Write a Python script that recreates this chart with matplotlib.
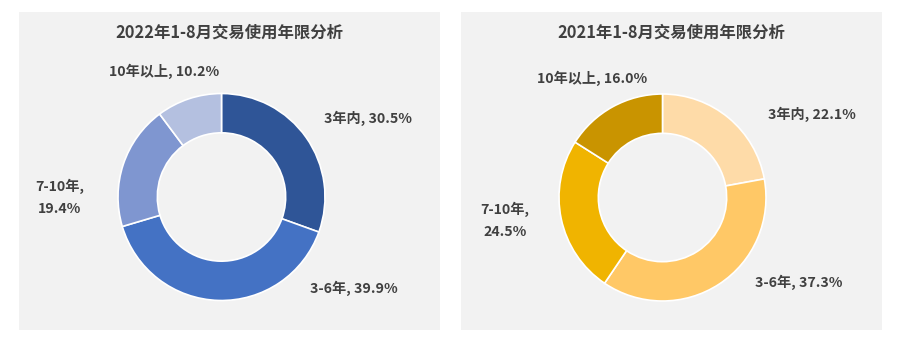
import matplotlib.pyplot as plt

plt.rcParams["font.family"] = ["Noto Sans CJK SC", "DejaVu Sans"]

categories = ["3年内", "3-6年", "7-10年", "10年以上"]
share_2022 = [30.5, 39.9, 19.4, 10.2]
share_2021 = [22.1, 37.3, 24.5, 16.0]
titles = ["2022年1-8月交易使用年限分析", "2021年1-8月交易使用年限分析"]

colors_2022 = ["#2f5597", "#4472c4", "#7f96d0", "#b4c0e0"]
colors_2021 = ["#fedba8", "#ffc866", "#f0b400", "#c99400"]

# label offsets from donut centre, in units of the outer radius
label_pos_2022 = [(1.415, 0.76), (1.28, -0.88), (-1.56, 0.0), (-0.55, 1.21)]
label_pos_2021 = [(1.445, 0.80), (1.32, -0.82), (-1.52, -0.22), (-0.68, 1.155)]

W, H = 901, 354
R = 103.5  # outer radius, px
text_color = "#404040"
panel_color = "#f2f2f2"

fig = plt.figure(figsize=(W / 100, H / 100), dpi=100)

# panel: (left, top, right, bottom) in px, donut centre in px
panels = [
    ((19, 12, 440, 330), (221.5, 197.0)),
    ((461, 12, 882, 330), (662.5, 197.5)),
]

for (box, centre), vals, cols, lpos, title in zip(
    panels,
    [share_2022, share_2021],
    [colors_2022, colors_2021],
    [label_pos_2022, label_pos_2021],
    titles,
):
    l, t, r, b = box
    ax = fig.add_axes([l / W, (H - b) / H, (r - l) / W, (b - t) / H])
    ax.pie(
        vals,
        colors=cols,
        startangle=90,
        counterclock=False,
        radius=1.0,
        wedgeprops=dict(width=0.38, edgecolor="white", linewidth=1.2),
    )
    ax.set_aspect("auto")
    cx, cy = centre
    ax.set_xlim(-(cx - l) / R, (r - cx) / R)
    ax.set_ylim(-(b - cy) / R, (cy - t) / R)
    ax.set_facecolor(panel_color)
    ax.set_frame_on(True)
    for s in ax.spines.values():
        s.set_visible(False)
    ax.set_xticks([])
    ax.set_yticks([])

    for cat, v, (x, y) in zip(categories, vals, lpos):
        if cat == "7-10年":
            txt = f"{cat},\n{v:.1f}%"
        else:
            txt = f"{cat}, {v:.1f}%"
        ax.text(x, y, txt, ha="center", va="center", fontsize=10.2,
                fontweight="bold", color=text_color, linespacing=1.7)

    ax.text(0.5, 1 - 21 / (b - t), title, transform=ax.transAxes,
            ha="center", va="center", fontsize=11.8, fontweight="bold",
            color=text_color)

fig.savefig("out.png", dpi=100, facecolor="white")
